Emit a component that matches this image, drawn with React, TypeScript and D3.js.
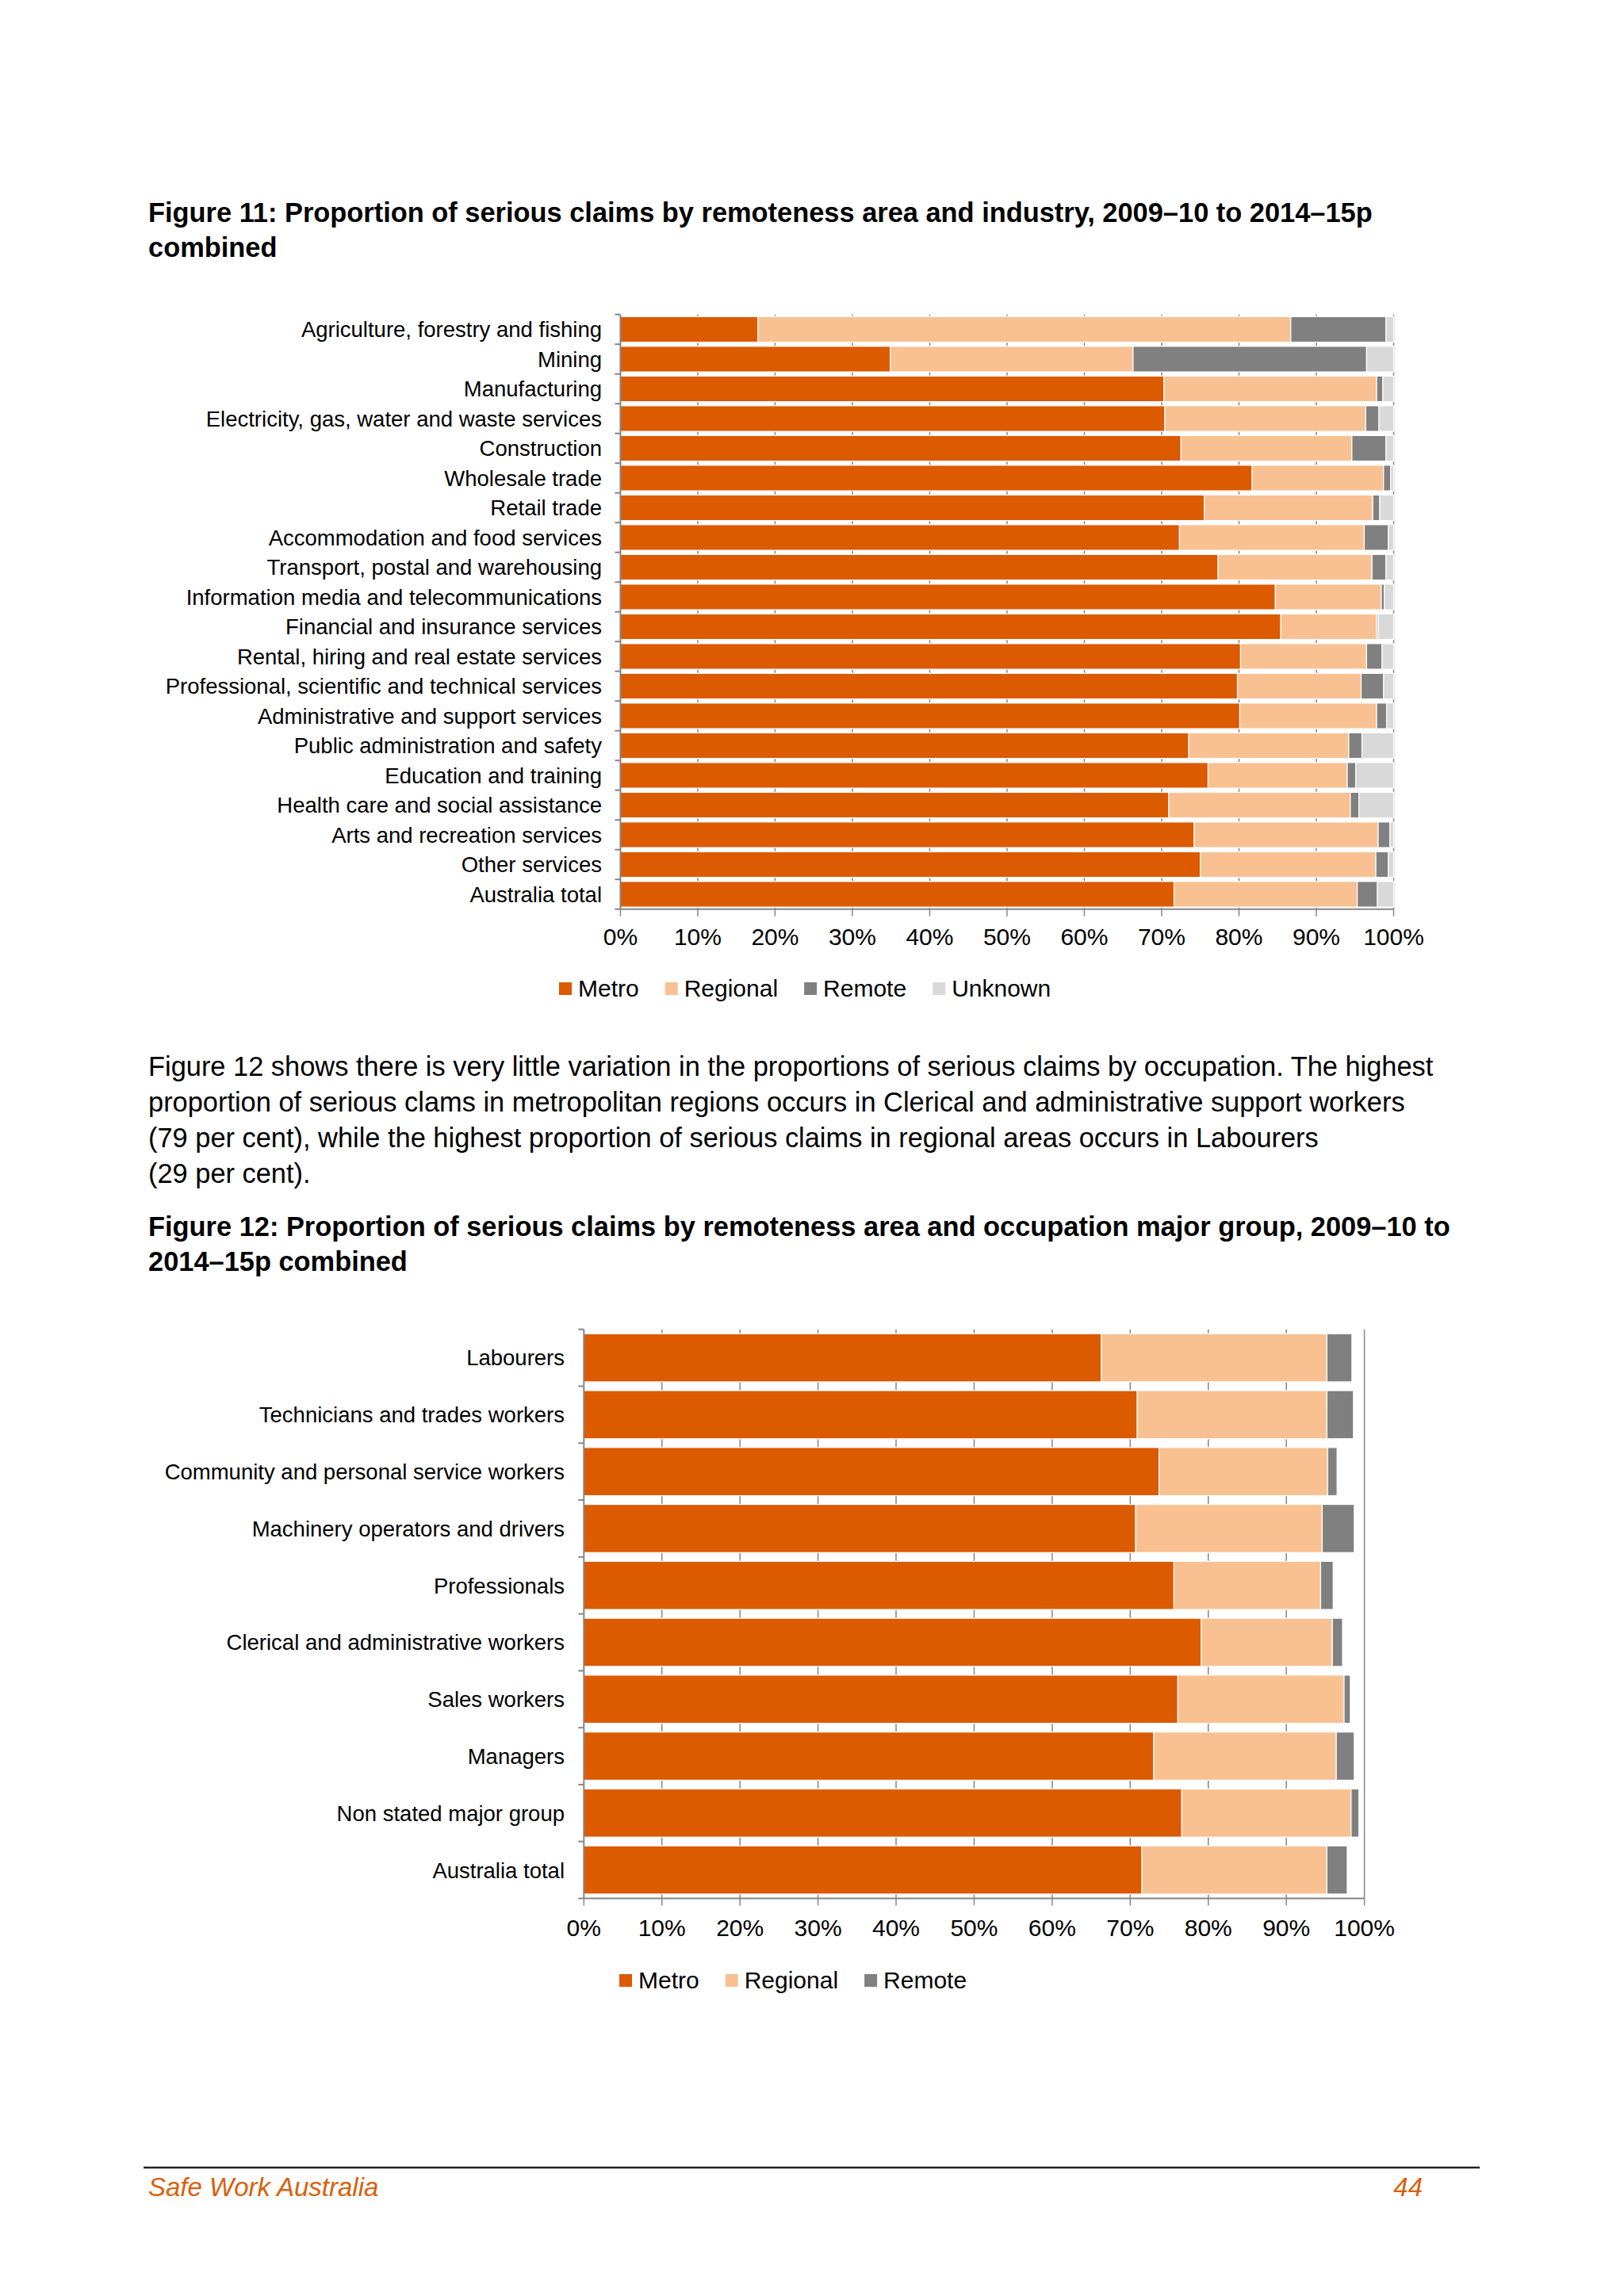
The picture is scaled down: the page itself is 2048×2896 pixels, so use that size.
import { useMemo } from "react";
import * as d3 from "d3";

// Figure 11: industry rows (top to bottom), percent of serious claims
const industries = [
  "Agriculture, forestry and fishing",
  "Mining",
  "Manufacturing",
  "Electricity, gas, water and waste services",
  "Construction",
  "Wholesale trade",
  "Retail trade",
  "Accommodation and food services",
  "Transport, postal and warehousing",
  "Information media and telecommunications",
  "Financial and insurance services",
  "Rental, hiring and real estate services",
  "Professional, scientific and technical services",
  "Administrative and support services",
  "Public administration and safety",
  "Education and training",
  "Health care and social assistance",
  "Arts and recreation services",
  "Other services",
  "Australia total",
];
const indMetro = [17.8, 34.9, 70.3, 70.4, 72.5, 81.7, 75.5, 72.3, 77.3, 84.7, 85.4, 80.2, 79.8, 80.1, 73.5, 76.0, 70.9, 74.2, 75.0, 71.6];
const indRegional = [68.9, 31.4, 27.5, 26.0, 22.1, 17.0, 21.8, 23.9, 19.9, 13.7, 12.4, 16.3, 16.0, 17.7, 20.7, 18.0, 23.5, 23.8, 22.7, 23.7];
const indRemote = [12.3, 30.2, 0.8, 1.7, 4.4, 0.9, 0.9, 3.1, 1.8, 0.4, 0.2, 2.0, 2.9, 1.3, 1.7, 1.1, 1.1, 1.5, 1.6, 2.6];
const indUnknown = [1.0, 3.5, 1.4, 1.9, 1.0, 0.4, 1.8, 0.7, 1.0, 1.2, 2.0, 1.5, 1.3, 0.9, 4.1, 4.9, 4.5, 0.5, 0.7, 2.1];

// Figure 12: occupation major groups
const occupations = [
  "Labourers",
  "Technicians and trades workers",
  "Community and personal service workers",
  "Machinery operators and drivers",
  "Professionals",
  "Clerical and administrative workers",
  "Sales workers",
  "Managers",
  "Non stated major group",
  "Australia total",
];
const occMetro = [66.3, 70.9, 73.7, 70.7, 75.6, 79.1, 76.1, 73.0, 76.6, 71.5];
const occRegional = [28.9, 24.3, 21.6, 23.9, 18.8, 16.8, 21.3, 23.4, 21.7, 23.7];
const occRemote = [3.2, 3.4, 1.2, 4.1, 1.6, 1.3, 0.8, 2.3, 1.0, 2.6];

const seriesNames = ["Metro", "Regional", "Remote", "Unknown"];
const xTicks = [0, 10, 20, 30, 40, 50, 60, 70, 80, 90, 100];

const COLORS: Record<string, string> = {
  Metro: "#dc5a00",
  Regional: "#f9c191",
  Remote: "#808080",
  Unknown: "#d9d9d9",
};
const FONT = "'Liberation Sans', Arial, Helvetica, sans-serif";
const AXIS = "#868686";
const BODY_SIZE = 34.4;

let measureCtx: CanvasRenderingContext2D | null = null;
function textWidth(s: string, size: number) {
  if (!measureCtx) measureCtx = document.createElement("canvas").getContext("2d");
  if (!measureCtx) return s.length * size * 0.5;
  measureCtx.font = `${size}px 'Liberation Sans', Arial, sans-serif`;
  return measureCtx.measureText(s).width;
}

type ChartProps = {
  categories: string[];
  series: { name: string; values: number[] }[];
  x0: number;
  x1: number;
  top: number;
  bottom: number;
  padding: number;
  labelRight: number;
  tickBaseline: number;
  legendX: number;
  legendBaseline: number;
};

function StackedBarChart({
  categories,
  series,
  x0,
  x1,
  top,
  bottom,
  padding,
  labelRight,
  tickBaseline,
  legendX,
  legendBaseline,
}: ChartProps) {
  const x = d3.scaleLinear().domain([0, 100]).range([x0, x1]);
  const y = d3
    .scaleBand<string>()
    .domain(categories)
    .range([top, bottom])
    .paddingInner(padding)
    .paddingOuter(padding / 2);
  const step = y.step();

  const stacked = useMemo(() => {
    const rows = categories.map((c, i) => {
      const r: Record<string, number | string> = { cat: c };
      series.forEach((s) => (r[s.name] = s.values[i]));
      return r;
    });
    return d3
      .stack<Record<string, number | string>>()
      .keys(series.map((s) => s.name))
      .value((d, k) => d[k] as number)(rows);
  }, [categories, series]);

  // legend layout from measured label widths
  let lx = legendX;
  const legend = series.map((s) => {
    const item = { name: s.name, x: lx };
    lx += 16 + 8 + textWidth(s.name, 30) + 33;
    return item;
  });

  return (
    <g>
      {/* vertical gridlines */}
      {xTicks.slice(1).map((t) => (
        <line key={"g" + t} x1={x(t)} x2={x(t)} y1={top} y2={bottom} stroke={AXIS} strokeWidth={1.5} />
      ))}
      {/* bars */}
      {stacked.map((layer) => (
        <g key={layer.key} fill={COLORS[layer.key]}>
          {layer.map((d, i) => (
            <rect
              key={i}
              x={x(d[0])}
              width={Math.max(0, x(d[1]) - x(d[0]))}
              y={y(categories[i])}
              height={y.bandwidth()}
              stroke="#ffffff"
              strokeWidth={1.2}
            />
          ))}
        </g>
      ))}
      {/* axes */}
      <line x1={x0} x2={x0} y1={top} y2={bottom} stroke={AXIS} strokeWidth={2} />
      {d3.range(categories.length + 1).map((i) => (
        <line key={"yt" + i} x1={x0 - 7} x2={x0} y1={top + i * step} y2={top + i * step} stroke={AXIS} strokeWidth={2} />
      ))}
      <line x1={x0} x2={x1} y1={bottom} y2={bottom} stroke={AXIS} strokeWidth={2} />
      {xTicks.map((t) => (
        <g key={"xt" + t}>
          <line x1={x(t)} x2={x(t)} y1={bottom} y2={bottom + 9} stroke={AXIS} strokeWidth={1.5} />
          <text x={x(t)} y={tickBaseline} textAnchor="middle" fontSize={30} fill="#000">
            {t}%
          </text>
        </g>
      ))}
      {/* category labels */}
      {categories.map((c) => (
        <text
          key={c}
          x={labelRight}
          y={(y(c) ?? 0) + y.bandwidth() / 2}
          dy="0.36em"
          textAnchor="end"
          fontSize={27.5}
          fill="#000"
        >
          {c}
        </text>
      ))}
      {/* legend */}
      {legend.map((l) => (
        <g key={l.name}>
          <rect x={l.x} y={legendBaseline - 18} width={16} height={16} fill={COLORS[l.name]} />
          <text x={l.x + 24} y={legendBaseline} fontSize={30} fill="#000">
            {l.name}
          </text>
        </g>
      ))}
    </g>
  );
}

export default function App() {
  const fig11Series = [
    { name: seriesNames[0], values: indMetro },
    { name: seriesNames[1], values: indRegional },
    { name: seriesNames[2], values: indRemote },
    { name: seriesNames[3], values: indUnknown },
  ];
  const fig12Series = [
    { name: seriesNames[0], values: occMetro },
    { name: seriesNames[1], values: occRegional },
    { name: seriesNames[2], values: occRemote },
  ];

  const paragraph = [
    "Figure 12 shows there is very little variation in the proportions of serious claims by occupation. The highest",
    "proportion of serious clams in metropolitan regions occurs in Clerical and administrative support workers",
    "(79 per cent), while the highest proportion of serious claims in regional areas occurs in Labourers",
    "(29 per cent).",
  ];

  return (
    <svg
      width={2048}
      height={2896}
      style={{ position: "absolute", left: 0, top: 0, background: "#fff" }}
      fontFamily={FONT}
    >
      <rect width={2048} height={2896} fill="#fff" />

      <text x={187} y={280} fontSize={BODY_SIZE} fontWeight="bold" fill="#000">
        Figure 11: Proportion of serious claims by remoteness area and industry, 2009–10 to 2014–15p
      </text>
      <text x={187} y={324} fontSize={BODY_SIZE} fontWeight="bold" fill="#000">
        combined
      </text>

      <StackedBarChart
        categories={industries}
        series={fig11Series}
        x0={782.4}
        x1={1757.5}
        top={396.7}
        bottom={1146.7}
        padding={0.14}
        labelRight={759}
        tickBaseline={1192}
        legendX={705}
        legendBaseline={1257}
      />

      {paragraph.map((line, i) => (
        <text key={i} x={187} y={1357 + i * 45} fontSize={BODY_SIZE} fill="#000">
          {line}
        </text>
      ))}

      <text x={187} y={1559} fontSize={BODY_SIZE} fontWeight="bold" fill="#000">
        Figure 12: Proportion of serious claims by remoteness area and occupation major group, 2009–10 to
      </text>
      <text x={187} y={1603} fontSize={BODY_SIZE} fontWeight="bold" fill="#000">
        2014–15p combined
      </text>

      <StackedBarChart
        categories={occupations}
        series={fig12Series}
        x0={736.3}
        x1={1720.6}
        top={1676.7}
        bottom={2394.5}
        padding={0.154}
        labelRight={712}
        tickBaseline={2442}
        legendX={781}
        legendBaseline={2508}
      />

      {/* footer */}
      <line x1={181} x2={1866} y1={2734} y2={2734} stroke="#222" strokeWidth={2.5} />
      <text x={187} y={2770} fontSize={33} fontStyle="italic" fill="#d9600a">
        Safe Work Australia
      </text>
      <text x={1794} y={2770} fontSize={33} fontStyle="italic" fill="#d9600a" textAnchor="end">
        44
      </text>
    </svg>
  );
}
